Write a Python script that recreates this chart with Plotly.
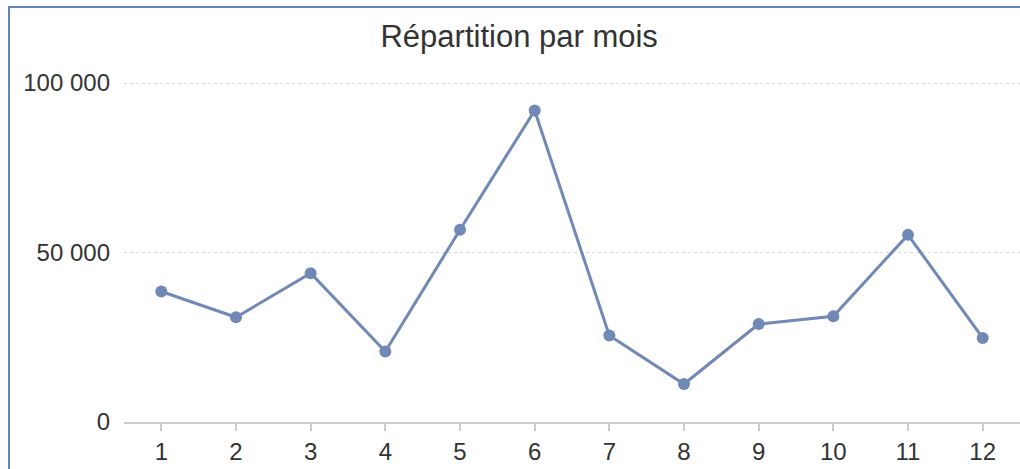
import plotly.graph_objects as go

months = list(range(1, 13))
values = [38500, 30900, 43900, 20800, 56700, 91900, 25500, 11200, 28900, 31200, 55200, 24800]

W, H = 1020, 469
ML, MR, MT, MB = 124, 0, 80, 47
pw, ph = W - ML - MR, H - MT - MB
# 100 000 sits at 339 px above the baseline; pad the top so its grid line shows
ymax = 100000 * ph / 339

# container border (top + left), expressed in paper coords
bx = (9 - ML) / pw
by_top = (H - MB - 7) / ph
by_bot = (H - MB - H) / ph

fig = go.Figure()
fig.add_trace(go.Scatter(
    x=months, y=values,
    mode="lines+markers",
    line=dict(color="#7189b6", width=3),
    marker=dict(color="#7189b6", size=12),
    hoverinfo="x+y",
))

fig.update_layout(
    width=W, height=H,
    paper_bgcolor="white", plot_bgcolor="white",
    font=dict(family="Liberation Sans, Arial, sans-serif", color="#333333", size=24),
    margin=dict(l=ML, r=MR, t=MT, b=MB),
    separators=", ",
    showlegend=False,
    title=dict(text="Répartition par mois", font=dict(size=31, color="#333333"),
               x=0.509, xanchor="center", y=1 - 36 / H, yanchor="middle"),
    xaxis=dict(
        range=[0.5, 12.5], tickvals=months, ticktext=[str(m) for m in months],
        showgrid=False, zeroline=False,
        showline=True, linecolor="#cccccc", linewidth=2,
        ticks="outside", ticklen=7, tickwidth=2, tickcolor="#cccccc",
        ticklabelstandoff=0,
    ),
    yaxis=dict(
        range=[0, ymax], tickvals=[0, 50000, 100000], tickformat=",d",
        showgrid=True, gridcolor="#d9d9d9", griddash="dot", gridwidth=1,
        zeroline=False, showline=False, ticks="",
        ticklabelstandoff=13,
    ),
    shapes=[dict(
        type="path", xref="paper", yref="paper",
        path=f"M {bx} {by_bot} L {bx} {by_top} L 1.05 {by_top}",
        line=dict(color="#5f86b8", width=2),
    )],
)

fig.write_html("out.html", config={"displayModeBar": False},
               post_script="document.body.style.margin='0';")
